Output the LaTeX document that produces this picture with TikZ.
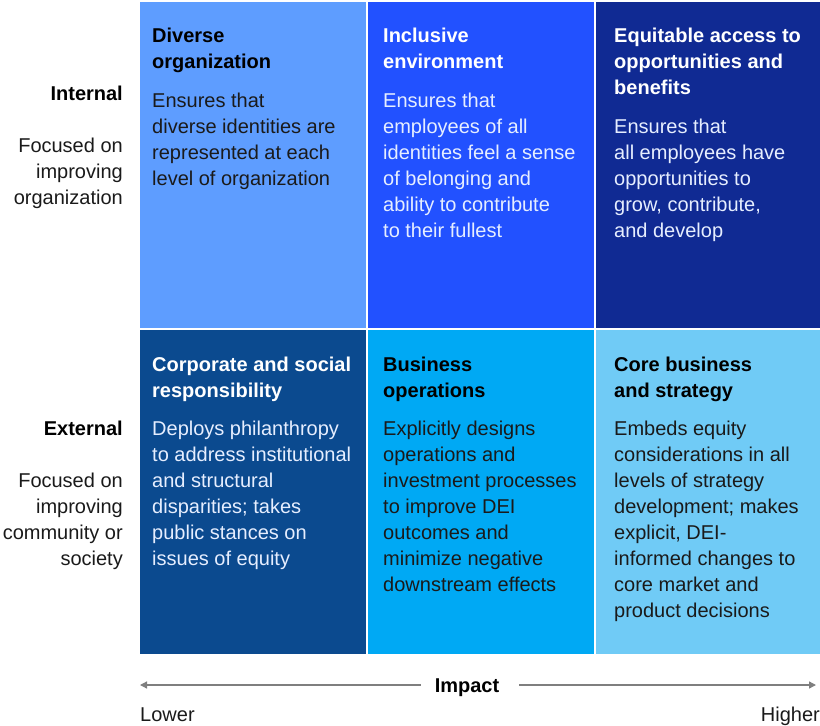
\documentclass[tikz,border=0pt]{standalone}
\usepackage{fontspec}
\setmainfont{Liberation Sans}
\usetikzlibrary{arrows.meta}
\definecolor{cA}{HTML}{5E9DFF}
\definecolor{cB}{HTML}{2251FF}
\definecolor{cC}{HTML}{102A93}
\definecolor{cD}{HTML}{0B4A8F}
\definecolor{cE}{HTML}{00A9F4}
\definecolor{cF}{HTML}{70CBF6}
\definecolor{darktxt}{HTML}{1A1A1A}
\definecolor{lighttxt}{HTML}{E6EEFF}
\definecolor{axisgray}{HTML}{7F7F7F}
\newcommand\mylines[1]{\parbox[t]{215pt}{#1}}
\newcommand\mylinesR[1]{\parbox[t]{130pt}{\raggedleft #1}}
\tikzset{
  cellbox/.style={inner sep=0pt, draw=none},
  txt/.style={inner sep=0pt, anchor=base west, font=\fontsize{20}{26}\selectfont},
  head/.style={txt, font=\fontsize{20}{26}\selectfont\bfseries},
  lbl/.style={inner sep=0pt, anchor=base east, font=\fontsize{20}{26}\selectfont, text=darktxt},
  lblhead/.style={lbl, font=\fontsize{20}{26}\selectfont\bfseries, text=black},
  axisline/.style={draw=axisgray, line width=1.3pt, -{Triangle[length=7pt,width=7pt]}},
}
\begin{document}
\begin{tikzpicture}[x=1pt,y=-1pt]
\useasboundingbox (0,0) rectangle (820,726);
% cells
\fill[cA] (140,2) rectangle (366,328);
\fill[cB] (368,2) rectangle (594,328);
\fill[cC] (596,2) rectangle (820,328);
\fill[cD] (140,330) rectangle (366,654);
\fill[cE] (368,330) rectangle (594,654);
\fill[cF] (596,330) rectangle (820,654);
% row 1
\node[head, text=black] (h1) at (152,42) {\mylines{Diverse\\organization}};
\node[txt, text=darktxt] (b1) at (152,107) {\mylines{Ensures that\\diverse identities are\\represented at each\\level of organization}};
\node[head, text=white] (h2) at (383,42) {\mylines{Inclusive\\environment}};
\node[txt, text=lighttxt] (b2) at (383,107) {\mylines{Ensures that\\employees of all\\identities feel a sense\\of belonging and\\ability to contribute\\to their fullest}};
\node[head, text=white] (h3) at (614,42) {\mylines{Equitable access to\\opportunities and\\benefits}};
\node[txt, text=lighttxt] (b3) at (614,133) {\mylines{Ensures that\\all employees have\\opportunities to\\grow, contribute,\\and develop}};
% row 2
\node[head, text=white] (h4) at (152,371) {\mylines{Corporate and social\\responsibility}};
\node[txt, text=lighttxt] (b4) at (152,435) {\mylines{Deploys philanthropy\\to address institutional\\and structural\\disparities; takes\\public stances on\\issues of equity}};
\node[head, text=black] (h5) at (383,371) {\mylines{Business\\operations}};
\node[txt, text=darktxt] (b5) at (383,435) {\mylines{Explicitly designs\\operations and\\investment processes\\to improve DEI\\outcomes and\\minimize negative\\downstream effects}};
\node[head, text=black] (h6) at (614,371) {\mylines{Core business\\and strategy}};
\node[txt, text=darktxt] (b6) at (614,435) {\mylines{Embeds equity\\considerations in all\\levels of strategy\\development; makes\\explicit, DEI-\\informed changes to\\core market and\\product decisions}};
% left labels
\node[lblhead] (int) at (123,100) {\mylinesR{Internal}};
\node[lbl] (intd) at (123,152) {\mylinesR{Focused on\\improving\\organization}};
\node[lblhead] (ext) at (123,435) {\mylinesR{External}};
\node[lbl] (extd) at (123,487) {\mylinesR{Focused on\\improving\\community or\\society}};
% axis
\coordinate (la) at (140,685);
\coordinate (ra) at (816,685);
\node[inner sep=0pt, anchor=base, font=\fontsize{20}{26}\selectfont\bfseries] (imp) at (467,692) {Impact};
\draw[axisline] ([xshift=-14pt]imp.west |- la) -- (la);
\draw[axisline] ([xshift=20pt]imp.east |- ra) -- (ra);
\node[inner sep=0pt, anchor=base west, font=\fontsize{20}{26}\selectfont, text=darktxt] (low) at (140,721) {Lower};
\node[inner sep=0pt, anchor=base east, font=\fontsize{20}{26}\selectfont, text=darktxt] (high) at (820,721) {Higher};
\end{tikzpicture}
\end{document}
